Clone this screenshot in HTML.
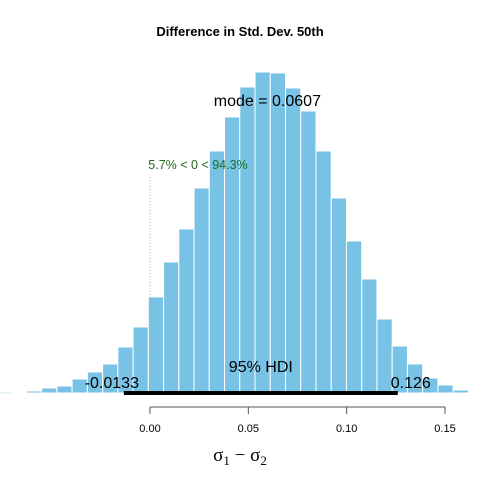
<!DOCTYPE html>
<html><head><meta charset="utf-8"><style>
html,body{margin:0;padding:0;background:#fff;}
svg{display:block;font-family:"Liberation Sans",sans-serif;}
</style></head><body>
<svg id="chart" width="480" height="480" viewBox="0 0 480 480">
<text x="240" y="36" text-anchor="middle" font-size="13" font-weight="bold">Difference in Std. Dev. 50th</text>
<g id="bars"></g>
<g id="annot"></g>
</svg>
<script>
const binStarts0 = -0.0706;
const binWidth = 0.00775;
const counts = [1,2,5,7,14,21,29,46,66,96,131,164,205,242,276,306,321,320,305,282,242,195,152,114,74,47,29,15,8,3,1];
const xTicks = [0.00,0.05,0.10,0.15];
const xTickLabels = ["0.00","0.05","0.10","0.15"];
const hdi = [-0.0133,0.126];
const hdiLabels = ["-0.0133","0.126"];
const modeVal = 0.0607;
const compVal = 0;
const compText = "5.7% < 0 < 94.3%";

const ns="http://www.w3.org/2000/svg";
const X = v => 150 + v*1966.7;
const baseY = 393;
const Y = c => baseY - c*(321/321);
function mk(tag,attrs,parent){const e=document.createElementNS(ns,tag);for(const k in attrs)e.setAttribute(k,attrs[k]);parent.appendChild(e);return e;}
const svg=document.getElementById('chart');
const bars=document.getElementById('bars');
mk('line',{x1:0,x2:480,y1:baseY,y2:baseY,stroke:'#cfe8f5','stroke-width':1},bars);
counts.forEach((c,i)=>{
  const x0=X(binStarts0+i*binWidth), x1=X(binStarts0+(i+1)*binWidth);
  const r=mk('rect',{x:x0,y:Y(c),width:x1-x0,height:baseY-Y(c),fill:'#78c2e5',stroke:'#ffffff','stroke-width':1},bars);
  
  
});
const an=document.getElementById('annot');
const cl=mk('line',{x1:X(compVal),x2:X(compVal),y1:177,y2:baseY,stroke:'#8fbf8f','stroke-width':1,'stroke-dasharray':'1,2'},an);


const ct=mk('text',{x:X(compVal)+48,y:169,'text-anchor':'middle','font-size':12.5,fill:'#1e6b1e'},an);
ct.textContent=compText;


const mt=mk('text',{x:X(modeVal)-2,y:106,'text-anchor':'middle','font-size':16},an);
mt.textContent='mode = '+modeVal;


const hl=mk('line',{x1:X(hdi[0]),x2:X(hdi[1]),y1:baseY,y2:baseY,stroke:'#000','stroke-width':4},an);


const ht=mk('text',{x:(X(hdi[0])+X(hdi[1]))/2,y:372,'text-anchor':'middle','font-size':16},an);
ht.textContent='95% HDI';


const hdiOffsets=[-12,13];
hdi.forEach((v,i)=>{
  const t=mk('text',{x:X(v)+hdiOffsets[i],y:388,'text-anchor':'middle','font-size':16},an);
  t.textContent=hdiLabels[i];
  
  
});
const ax=mk('g',{},an);


mk('line',{x1:X(xTicks[0]),x2:X(xTicks[xTicks.length-1]),y1:407,y2:407,stroke:'#555','stroke-width':1},ax);
xTicks.forEach((v,i)=>{
  mk('line',{x1:X(v),x2:X(v),y1:407,y2:414,stroke:'#555','stroke-width':1},ax);
  const t=mk('text',{x:X(v),y:432,'text-anchor':'middle','font-size':11},ax);
  t.textContent=xTickLabels[i];
  
  
});
const xl=mk('text',{x:240,y:461,'text-anchor':'middle','font-size':19,'font-family':'"Liberation Serif",serif'},an);
xl.innerHTML='σ<tspan font-size="13" dy="4">1</tspan><tspan dy="-4"> − σ</tspan><tspan font-size="13" dy="4">2</tspan>';


</script>
</body></html>
